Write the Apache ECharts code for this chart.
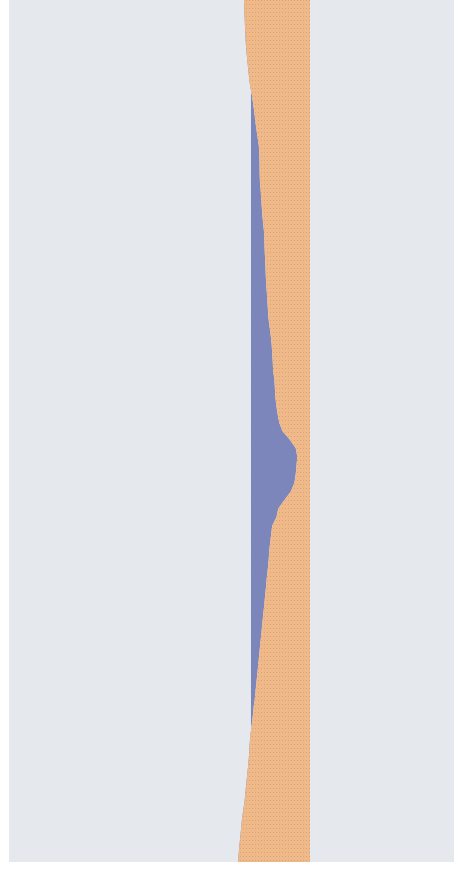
<!DOCTYPE html>
<html>
<head>
<meta charset="utf-8">
<script src="https://cdn.jsdelivr.net/npm/echarts@6/dist/echarts.min.js"></script>
<style>
  html, body { margin: 0; padding: 0; background: #ffffff; }
  #chart { width: 454px; height: 877px; }
</style>
</head>
<body>
<div id="chart"></div>
<script>
// Position along the band, top to bottom
const positions = Array.from({ length: 101 }, (_, i) => String(i));

// Inner share (can dip below zero at both ends)
const innerShare = [
  -11.9, -11.4, -10.8, -10.2, -9.5, -8.8, -7.6, -6.3, -4.7, -3.2,
  -1.4, 1.5, 3.6, 5.6, 7.3, 9.2, 11.4, 13.4, 14.2, 14.6,
  14.7, 15.1, 16.4, 17.3, 18.3, 19.3, 20.8, 22.2, 22.7, 23.2,
  23.9, 24.6, 25.1, 25.9, 26.9, 27.8, 28.8, 29.8, 31.7, 33.6,
  35.1, 35.9, 36.9, 37.5, 39.7, 40.5, 41.2, 42.9, 45.1, 47.8,
  53.2, 65.6, 75.9, 78.5, 77.1, 75.9, 73.6, 67.8, 56.8, 46.3,
  43.1, 35.9, 34.2, 32.4, 30.8, 30.0, 28.5, 26.9, 25.6, 24.1,
  22.7, 21.2, 19.7, 18.3, 16.8, 15.3, 13.9, 12.4, 11.0, 9.5,
  8.0, 6.6, 4.6, 3.2, 1.4, -0.5, -1.9, -2.7, -3.7, -5.1,
  -6.6, -8.1, -9.5, -11.0, -13.1, -15.3, -16.6, -18.0, -19.5, -20.8,
  -22.0
];

// Outer share: the remainder up to the fixed total
const total = 100;
const outerShare = innerShare.map(v => +(total - v).toFixed(1));

// Fine dotted texture for the outer band
const outerDecal = {
  symbol: 'rect',
  symbolSize: 1,
  color: 'rgba(150, 105, 60, 0.28)',
  dashArrayX: [1, 2],
  dashArrayY: [1, 3]
};

const chart = echarts.init(document.getElementById('chart'), null, { renderer: 'canvas' });

chart.setOption({
  animation: false,
  grid: {
    left: 9, right: 0, top: 0, bottom: 15,
    show: true,
    backgroundColor: '#e5e9ed',
    borderWidth: 0
  },
  xAxis: {
    type: 'value',
    min: -410,
    max: 344,
    axisLine: { show: false },
    axisTick: { show: false },
    axisLabel: { show: false },
    splitLine: { show: false }
  },
  yAxis: {
    type: 'category',
    data: positions,
    inverse: true,
    boundaryGap: false,
    axisLine: { show: true, onZero: true, lineStyle: { color: '#f4f6f8', width: 1 } },
    axisTick: { show: false },
    axisLabel: { show: false },
    splitLine: { show: false }
  },
  series: [
    {
      name: 'inner',
      type: 'line',
      stack: 'share',
      stackStrategy: 'all',
      data: innerShare,
      symbol: 'none',
      lineStyle: { width: 0 },
      itemStyle: { color: '#7c86ba' },
      areaStyle: { color: '#7c86ba', opacity: 1 }
    },
    {
      name: 'outer',
      type: 'line',
      stack: 'share',
      stackStrategy: 'all',
      data: outerShare,
      symbol: 'none',
      lineStyle: { width: 0 },
      itemStyle: { color: '#f0b98a', decal: outerDecal },
      areaStyle: { color: '#f0b98a', opacity: 1 }
    }
  ]
});
</script>
</body>
</html>
